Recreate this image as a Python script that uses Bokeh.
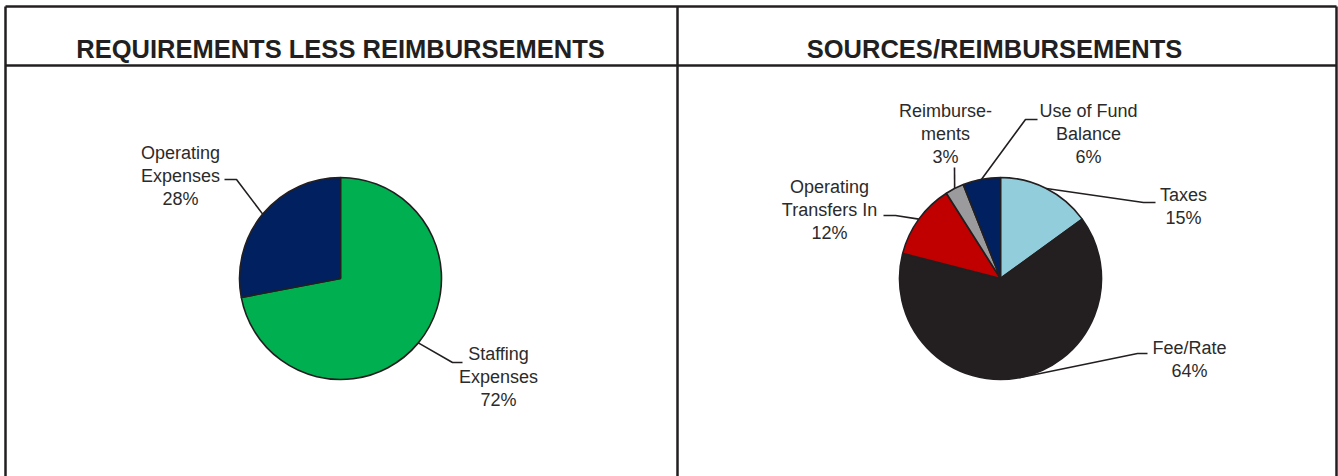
import math
from bokeh.plotting import figure
from bokeh.models import Range1d, ColumnDataSource
from bokeh.core.properties import value
from bokeh.embed import file_html
from bokeh.resources import INLINE

# ---------------- data ----------------
left_title = "REQUIREMENTS LESS REIMBURSEMENTS"
left_labels = ["Staffing\nExpenses", "Operating\nExpenses"]
left_values = [72, 28]
left_colors = ["#00B050", "#002060"]

right_title = "SOURCES/REIMBURSEMENTS"
right_labels = ["Taxes", "Fee/Rate", "Operating\nTransfers In", "Reimburse-\nments", "Use of Fund\nBalance"]
right_values = [15, 64, 12, 3, 6]
right_colors = ["#92CDDC", "#231F20", "#C00000", "#9B9B9D", "#002060"]

# ---------------- layout (pixel space, y measured from top) ----------------
W, H = 1338, 476
INK = "#231F20"
FONT = "Liberation Sans"

def Y(y):
    return H - y

p = figure(width=W, height=H, x_range=Range1d(0, W), y_range=Range1d(0, H),
           output_backend="svg", toolbar_location=None, min_border=0,
           outline_line_color=None, background_fill_color="white",
           border_fill_color="white")
p.axis.visible = False
p.grid.visible = False

# frame lines
p.segment(x0=[5, 5, 5, 677, 1336], y0=[Y(6), Y(65), Y(6), Y(6), Y(6)],
          x1=[1336, 1336, 5, 677, 1336], y1=[Y(6), Y(65), Y(H + 5), Y(H + 5), Y(H + 5)],
          line_color=INK, line_width=2.5)

# titles
p.text(x=[340, 994], y=[Y(48), Y(48)], text=[left_title, right_title],
       text_font=value(FONT), text_font_style="bold", text_font_size=value("25.5px"),
       text_color=INK, text_align="center", text_baseline="middle")


def pie(cx, cy, r, values, colors, labels, elbows, ends, text_pos):
    total = float(sum(values))
    starts, stops, mids = [], [], []
    acc = 0.0
    for v in values:
        a0 = acc / total
        acc += v
        a1 = acc / total
        # clockwise from 12 o'clock -> bokeh anticlockwise angles
        starts.append(math.radians(90 - a1 * 360))
        stops.append(math.radians(90 - a0 * 360))
        mids.append(math.radians(90 - (a0 + a1) / 2 * 360))
    src = ColumnDataSource(dict(start=starts, end=stops, color=colors))
    p.wedge(x=cx, y=Y(cy), radius=r, start_angle="start", end_angle="end",
            fill_color="color", line_color=INK, line_width=1.6, source=src)
    xs, ys = [], []
    for m, e, t in zip(mids, elbows, ends):
        sx = cx + r * math.cos(m)
        sy = Y(cy) + r * math.sin(m)
        xs.append([sx, e[0], t[0]])
        ys.append([sy, Y(e[1]), Y(t[1])])
    p.multi_line(xs=xs, ys=ys, line_color=INK, line_width=1.6)
    texts = [f"{l}\n{v}%" for l, v in zip(labels, values)]
    p.text(x=[t[0] for t in text_pos], y=[Y(t[1]) for t in text_pos], text=texts,
           text_font=value(FONT), text_font_size=value("18px"), text_color="#2b2b2b",
           text_align="center", text_baseline="middle", text_line_height=1.15)


pie(340, 278, 101, left_values, left_colors, left_labels,
    elbows=[(452, 362), (236, 179)],
    ends=[(462, 362), (224, 179)],
    text_pos=[(498, 376), (180, 175)])

pie(1000, 278, 101, right_values, right_colors, right_labels,
    elbows=[(1143, 202), (1137, 353), (895, 215), (954, 167), (1025, 119)],
    ends=[(1155, 202), (1147, 353), (883, 215), (954, 167), (1037, 119)],
    text_pos=[(1183, 206), (1189, 359), (829, 209), (945, 133), (1088, 133)])

open("out.html", "w").write(file_html(p, INLINE))
